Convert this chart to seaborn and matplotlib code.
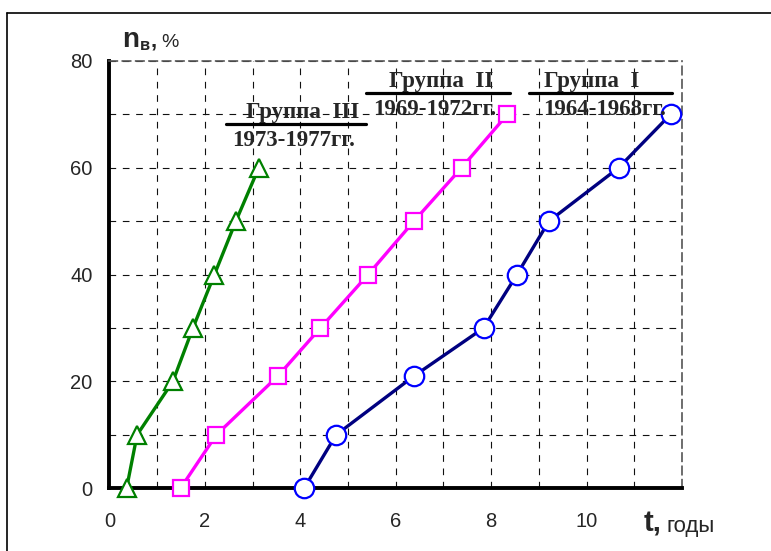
import numpy as np
import pandas as pd
import seaborn as sns
import matplotlib.pyplot as plt
from matplotlib.lines import Line2D

# Группа III, 1973-1977
t_g3 = [0.36, 0.58, 1.33, 1.75, 2.2, 2.65, 3.13]
n_g3 = [0, 10, 20, 30, 40, 50, 60]
# Группа II, 1969-1972
t_g2 = [1.49, 2.24, 3.53, 4.42, 5.42, 6.38, 7.38, 8.34]
n_g2 = [0, 10, 21, 30, 40, 50, 60, 70]
# Группа I, 1964-1968
t_g1 = [4.08, 4.75, 6.38, 7.84, 8.54, 9.21, 10.67, 11.76]
n_g1 = [0, 10, 21, 30, 40, 50, 60, 70]

x_ticks = [0, 2, 4, 6, 8, 10]
y_ticks = [0, 20, 40, 60, 80]

sns.set_style("white")
plt.rcParams["font.family"] = ["Liberation Sans", "DejaVu Sans"]

fig = plt.figure(figsize=(7.71, 5.51), dpi=100)
ax = fig.add_axes([0.1419, 0.1138, 0.8846 - 0.1419, 0.8893 - 0.1138])

series = [
    (t_g3, n_g3, "^", 13, "#008000", "#008000"),
    (t_g2, n_g2, "s", 11, "#FF00FF", "#FF00FF"),
    (t_g1, n_g1, "o", 14, "#000080", "#0000FF"),
]
for t, n, mk, ms, lc, ec in series:
    df = pd.DataFrame({"t": t, "n": n})
    sns.lineplot(data=df, x="t", y="n", ax=ax, sort=False, color=lc, lw=2.4,
                 marker=mk, markersize=ms, markerfacecolor="white",
                 markeredgecolor=ec, markeredgewidth=1.6, clip_on=False, zorder=5)

ax.set_xlim(0, 12)
ax.set_ylim(0, 80)
ax.set_xticks(x_ticks)
ax.set_yticks(y_ticks)
ax.set_xticks(np.arange(0, 13, 1), minor=True)
ax.set_yticks(np.arange(0, 81, 10), minor=True)
ax.grid(which="both", color="#111111", lw=0.8, linestyle=(0, (6, 6)))
ax.set_xlabel("")
ax.set_ylabel("")

ax.tick_params(axis="both", which="major", direction="out", length=5, width=2.5,
               color="black", labelsize=14.5)
ax.tick_params(axis="x", which="major", pad=12)
ax.tick_params(axis="y", which="major", pad=7)
ax.tick_params(axis="both", which="minor", length=0)

for s in ["left", "bottom"]:
    ax.spines[s].set_color("black")
    ax.spines[s].set_linewidth(2.8)
for s in ["top", "right"]:
    ax.spines[s].set_color("#555555")
    ax.spines[s].set_linewidth(1.2)
    ax.spines[s].set_linestyle((0, (5, 3)))

# group labels with underline
serif = ["Liberation Serif", "DejaVu Serif"]
labels = [
    ("Группа  III", "1973-1977гг.", 4.05, 3.85, 70.4, 65.2, 2.44, 5.37, 68.2),
    ("Группа  II", "1969-1972гг.", 6.95, 6.82, 76.2, 70.9, 5.37, 8.40, 74.1),
    ("Группа  I", "1964-1968гг.", 10.1, 10.37, 76.2, 70.9, 8.80, 11.78, 74.1),
]
for top, bottom, xt, xb, yt, yb, x0, x1, yl in labels:
    ax.text(xt, yt, top, family=serif, fontsize=16.5, fontweight="bold",
            ha="center", va="center", zorder=6)
    ax.text(xb, yb, bottom, family=serif, fontsize=16.5, fontweight="bold",
            ha="center", va="center", zorder=6)
    ax.plot([x0, x1], [yl, yl], color="black", lw=2.3, clip_on=False, zorder=6)

# axis titles
fig.text(122 / 771, 1 - 47 / 551, "n", fontsize=20, fontweight="bold",
         ha="left", va="baseline")
fig.text(140 / 771, 1 - 50 / 551, "в", fontsize=12, fontweight="bold",
         ha="left", va="baseline")
fig.text(151 / 771, 1 - 47 / 551, ",", fontsize=16, fontweight="bold",
         ha="left", va="baseline")
fig.text(161 / 771, 1 - 47 / 551, "%", fontsize=14, ha="left", va="baseline")

fig.text(644 / 771, 1 - 532 / 551, "t,", fontsize=21, fontweight="bold",
         ha="left", va="baseline")
fig.text(667 / 771, 1 - 532 / 551, "годы", fontsize=16, ha="left", va="baseline")

# figure frame
fig.add_artist(Line2D([7.3 / 771, 7.3 / 771], [0, 1 - 12.7 / 551], color="black", lw=1.2))
fig.add_artist(Line2D([7.3 / 771, 1], [1 - 12.7 / 551, 1 - 12.7 / 551], color="black", lw=1.2))

fig.savefig("out.png", dpi=100)
